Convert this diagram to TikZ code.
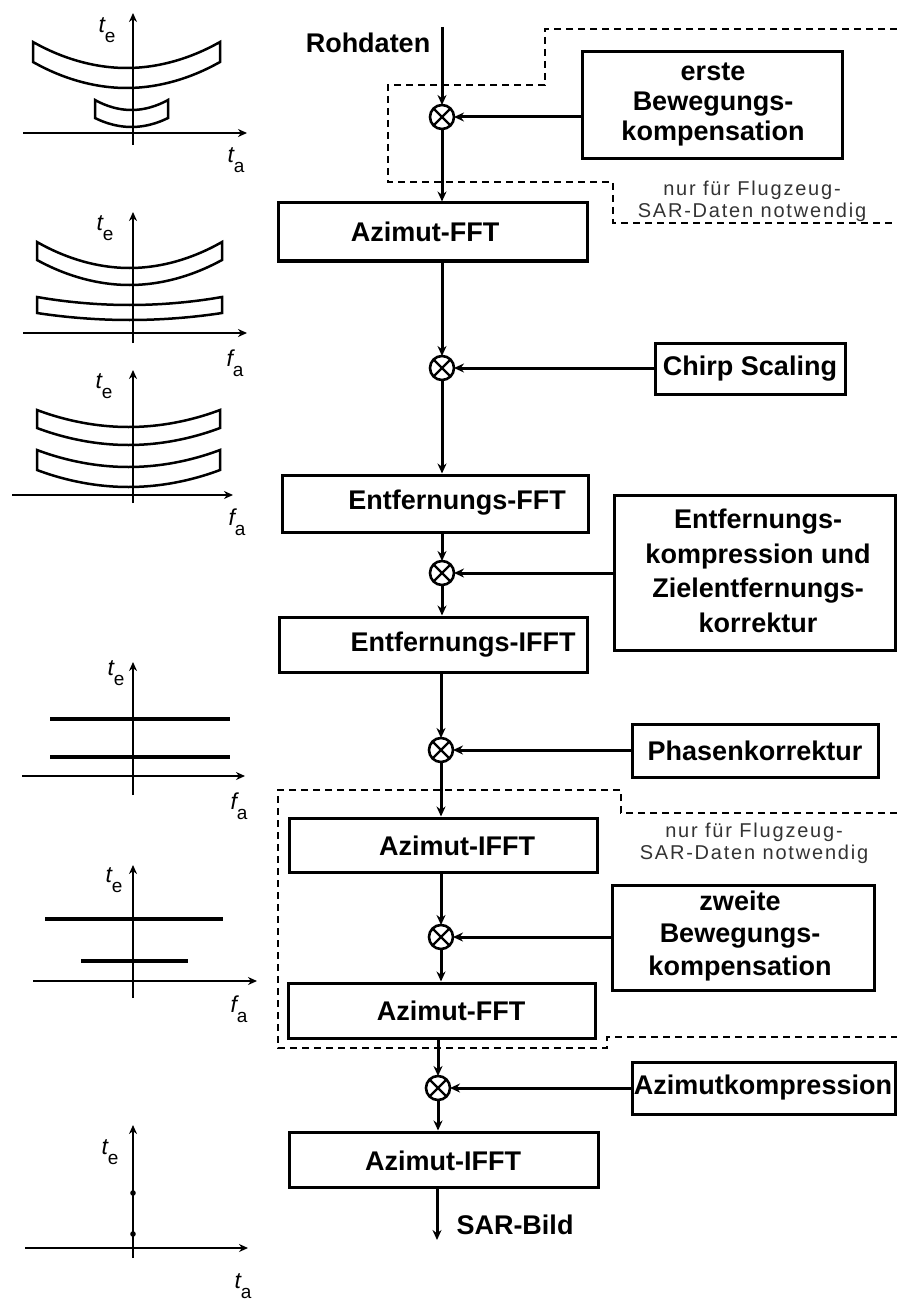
\documentclass[tikz,border=0pt]{standalone}
\usepackage{fontspec}
\setmainfont{Liberation Sans}
\usetikzlibrary{arrows.meta,fit}
\definecolor{notegray}{HTML}{333333}
\begin{document}
\begin{tikzpicture}[x=0.5pt,y=-0.5pt,
  box/.style={draw, line width=1.5pt, inner sep=0pt},
  lbl/.style={font=\fontsize{13.5}{15}\selectfont\bfseries, inner sep=0pt, align=center},
  mul/.style={circle, draw, line width=1.3pt, minimum size=12pt, inner sep=0pt, outer sep=0pt, fill=white},
  flow/.style={line width=1.5pt, -{Stealth[length=5pt,width=4.5pt]}},
  dsh/.style={line width=1.4pt, dash pattern=on 3.5pt off 2.5pt},
  note/.style={font=\fontsize{10}{11}\selectfont\addfontfeature{LetterSpace=9}, text=notegray, align=center, inner sep=0pt},
  ax/.style={line width=0.9pt, -{Stealth[length=4.5pt,width=4pt]}},
  band/.style={line width=1.25pt},
  bar/.style={line width=2pt},
  axl/.style={inner sep=0pt}
]
\useasboundingbox (0,0) rectangle (897,1300);

% ---------------- sketches on the left ----------------
\newcommand{\tlab}[2]{{\fontsize{11.5}{12}\selectfont\itshape #1}\raisebox{-5pt}{\fontsize{9.5}{10}\selectfont #2}}
% plot 1
\draw[band] (33,42) parabola bend (126.5,68) (220,42) -- (220,62) parabola bend (126.5,88) (33,62) -- cycle;
\draw[band] (95,100) parabola bend (131.5,110) (168,100) -- (168,118) parabola bend (131.5,127) (95,118) -- cycle;
\draw[ax] (133,145) -- (133,13);
\draw[ax] (23,133) -- (247,133);
\node[axl] (p1e) at (107,30) {\tlab{t}{e}};
\node[axl] (p1a) at (236,160) {\tlab{t}{a}};
% plot 2
\draw[band] (37,242) parabola bend (129.5,268) (222,242) -- (222,260) parabola bend (129.5,285) (37,260) -- cycle;
\draw[band] (37,297) parabola bend (129.5,305) (222,297) -- (222,313) parabola bend (129.5,320) (37,313) -- cycle;
\draw[ax] (133,343) -- (133,212);
\draw[ax] (23,333) -- (247,333);
\node[axl] (p2e) at (105,228) {\tlab{t}{e}};
\node[axl] (p2a) at (235,363) {\tlab{f}{a}};
% plot 3
\draw[band] (37,410) parabola bend (128.5,427) (220,410) -- (220,428) parabola bend (128.5,445) (37,428) -- cycle;
\draw[band] (37,450) parabola bend (128.5,467) (220,450) -- (220,470) parabola bend (128.5,487) (37,470) -- cycle;
\draw[ax] (133,503) -- (133,370);
\draw[ax] (12,495) -- (233,495);
\node[axl] (p3e) at (104,386) {\tlab{t}{e}};
\node[axl] (p3a) at (237,522) {\tlab{f}{a}};
% plot 4
\draw[bar] (50,719) -- (230,719);
\draw[bar] (50,757) -- (230,757);
\draw[ax] (133,795) -- (133,662);
\draw[ax] (22,776) -- (245,776);
\node[axl] (p4e) at (116,673) {\tlab{t}{e}};
\node[axl] (p4a) at (239,806) {\tlab{f}{a}};
% plot 5
\draw[bar] (45,919) -- (223,919);
\draw[bar] (81,961) -- (188,961);
\draw[ax] (133,998) -- (133,865);
\draw[ax] (33,981) -- (257,981);
\node[axl] (p5e) at (114,880) {\tlab{t}{e}};
\node[axl] (p5a) at (239,1009) {\tlab{f}{a}};
% plot 6
\draw[ax] (133,1258) -- (133,1125);
\draw[ax] (25,1248) -- (248,1248);
\fill (133,1193) circle (1.4pt);
\fill (133,1234) circle (1.4pt);
\node[axl] (p6e) at (110,1152) {\tlab{t}{e}};
\node[axl] (p6a) at (243,1286) {\tlab{t}{a}};

% ---------------- dashed regions ----------------
\draw[dsh] (897,29) -- (545,29) -- (545,85) -- (388,85) -- (388,182) -- (613,182) -- (613,223) -- (897,223);
\draw[dsh] (897,813) -- (621,813) -- (621,790) -- (278,790) -- (278,1048) -- (607,1048) -- (607,1037) -- (897,1037);
\node[note] (n1) at (752,201) {nur für Flugzeug-\\SAR-Daten notwendig};
\node[note] (n2) at (754,843) {nur für Flugzeug-\\SAR-Daten notwendig};

% ---------------- flow ----------------
\coordinate (in) at (442,27);
\node[lbl] (roh) at (368,43) {Rohdaten};

\node[mul] (m1) at (442,117) {};
\node[box, fit={(582,52)(842,159)}] (b1) {};
\node[lbl] (b1t) at (713,104) {erste\\Bewegungs-\\kompensation};

\node[box, fit={(278,203)(587,261)}] (az1) {};
\node[lbl] (az1t) at (425,232) {Azimut-FFT};

\node[mul] (m2) at (442,368) {};
\node[box, fit={(655,343)(845,394)}] (chirp) {};
\node[lbl] (chirpt) at (750,369) {Chirp Scaling};

\node[box, fit={(282,475)(588,532)}] (ef) {};
\node[lbl] (eft) at (457,503) {Entfernungs-FFT};

\node[mul] (m3) at (442,573) {};
\node[box, fit={(614,495)(895,650)}] (ek) {};
\node[lbl, font=\fontsize{13.5}{17.3}\selectfont\bfseries] (ekt) at (758,571) {Entfernungs-\\kompression und\\Zielentfernungs-\\korrektur};

\node[box, fit={(279,617)(587,672)}] (eif) {};
\node[lbl] (eift) at (463,645) {Entfernungs-IFFT};

\node[mul] (m4) at (441,750) {};
\node[box, fit={(632,724)(878,777)}] (ph) {};
\node[lbl] (pht) at (755,751) {Phasenkorrektur};

\node[box, fit={(289,818)(597,872)}] (aif) {};
\node[lbl] (aift) at (457,846) {Azimut-IFFT};

\node[mul] (m5) at (441,937) {};
\node[box, fit={(612,885)(874,990)}] (b2) {};
\node[lbl, font=\fontsize{13.5}{16.25}\selectfont\bfseries] (b2t) at (740,936) {zweite\\Bewegungs-\\kompensation};

\node[box, fit={(288,983)(595,1038)}] (az2) {};
\node[lbl] (az2t) at (451,1011) {Azimut-FFT};

\node[mul] (m6) at (438,1088) {};
\node[box, fit={(632,1062)(895,1114)}] (ak) {};
\node[lbl] (akt) at (763,1088) {Azimutkompression};

\node[box, fit={(289,1132)(598,1187)}] (aif2) {};
\node[lbl] (aif2t) at (443,1161) {Azimut-IFFT};

\coordinate (out) at (437,1240);
\node[lbl] (sar) at (515,1225) {SAR-Bild};

\foreach \m in {m1,m2,m3,m4,m5,m6}
  \draw[line width=1.2pt] (\m.north west) -- (\m.south east) (\m.north east) -- (\m.south west);

\draw[flow] (in) -- (m1);
\draw[flow] (b1.west |- m1) -- (m1);
\draw[flow] (m1) -- (m1 |- az1.north);
\draw[flow] (az1.south -| m2) -- (m2);
\draw[flow] (chirp.west |- m2) -- (m2);
\draw[flow] (m2) -- (m2 |- ef.north);
\draw[flow] (ef.south -| m3) -- (m3);
\draw[flow] (ek.west |- m3) -- (m3);
\draw[flow] (m3) -- (m3 |- eif.north);
\draw[flow] (eif.south -| m4) -- (m4);
\draw[flow] (ph.west |- m4) -- (m4);
\draw[flow] (m4) -- (m4 |- aif.north);
\draw[flow] (aif.south -| m5) -- (m5);
\draw[flow] (b2.west |- m5) -- (m5);
\draw[flow] (m5) -- (m5 |- az2.north);
\draw[flow] (az2.south -| m6) -- (m6);
\draw[flow] (ak.west |- m6) -- (m6);
\draw[flow] (m6) -- (m6 |- aif2.north);
\draw[flow] (aif2.south -| out) -- (out);
\end{tikzpicture}
\end{document}
